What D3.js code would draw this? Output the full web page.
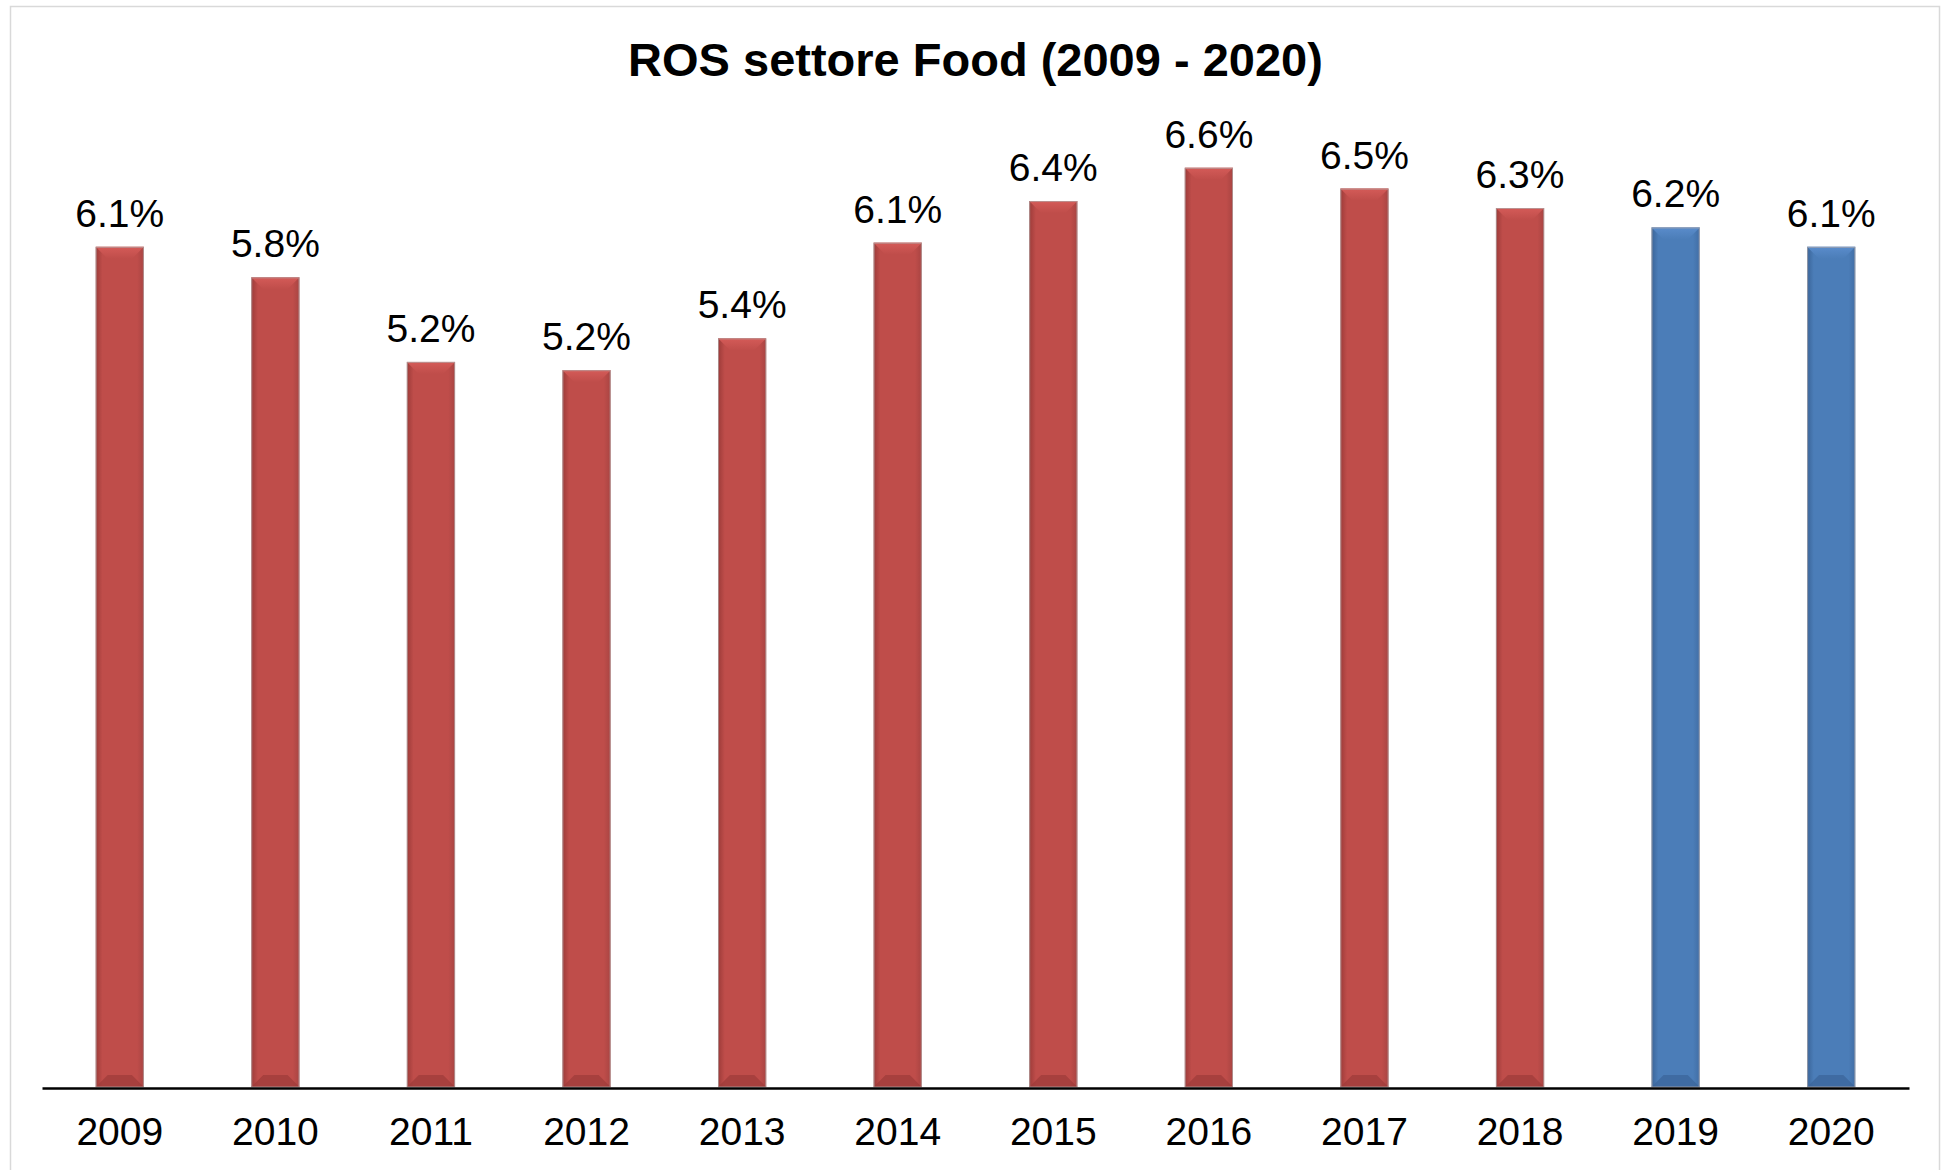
<!DOCTYPE html>
<html>
<head>
<meta charset="utf-8">
<script src="https://cdn.jsdelivr.net/npm/d3@7"></script>
<style>
    body { margin: 0; background: #ffffff; }
    svg { display: block; }
    text { font-family: "Liberation Sans", Arial, sans-serif; fill: #000; }
</style>
</head>
<body>
<svg id="chart"></svg>
<script>
// data (ROS, %)
const years = ["2009", "2010", "2011", "2012", "2013", "2014", "2015", "2016", "2017", "2018", "2019", "2020"];
const rosValues = [6.06, 5.84, 5.23, 5.17, 5.40, 6.09, 6.39, 6.63, 6.48, 6.34, 6.20, 6.06];
const forecastYears = ["2019", "2020"];
const chartTitle = "ROS settore Food (2009 - 2020)";

const width = 1948, height = 1170;
const plot = { left: 42, right: 1909, top: 116.5, bottom: 1087 };
const bevel = 12;

const palette = {
    actual: { base: "#bf4d4a", light: "#d45b58", dark: "#9c3b39", edge: "#a84442" },
    forecast: { base: "#4b7db8", light: "#5a8ccb", dark: "#3a6498", edge: "#416ea5" }
};

const svg = d3.select("#chart")
    .attr("width", width)
    .attr("height", height);

// light frame round the chart area
svg.append("rect")
    .attr("x", 10.5).attr("y", 6.5)
    .attr("width", 1929).attr("height", 1200)
    .attr("fill", "none")
    .attr("stroke", "#d9d9d9")
    .attr("stroke-width", 1.5);

const x = d3.scaleBand()
    .domain(years)
    .range([plot.left, plot.right])
    .paddingInner(0.69)
    .paddingOuter(0.345);

const y = d3.scaleLinear()
    .domain([0, 7])
    .range([plot.bottom, plot.top]);

const colorKey = year => forecastYears.includes(year) ? "forecast" : "actual";

// horizontal shading for the bar body, vertical fade for the top bevel
const defs = svg.append("defs");
Object.entries(palette).forEach(([key, c]) => {
    const g = defs.append("linearGradient")
        .attr("id", "body-" + key)
        .attr("x1", "0%").attr("x2", "100%").attr("y1", "0%").attr("y2", "0%");
    g.append("stop").attr("offset", "0%").attr("stop-color", c.dark);
    g.append("stop").attr("offset", "14%").attr("stop-color", c.base);
    g.append("stop").attr("offset", "86%").attr("stop-color", c.base);
    g.append("stop").attr("offset", "100%").attr("stop-color", c.edge);

    const t = defs.append("linearGradient")
        .attr("id", "top-" + key)
        .attr("x1", "0%").attr("x2", "0%").attr("y1", "0%").attr("y2", "100%");
    t.append("stop").attr("offset", "0%").attr("stop-color", c.light);
    t.append("stop").attr("offset", "100%").attr("stop-color", c.base);
});

const data = years.map((year, i) => ({ year, value: rosValues[i] }));

const bars = svg.append("g")
    .selectAll("g")
    .data(data)
    .enter()
    .append("g");

bars.append("rect")
    .attr("x", d => x(d.year))
    .attr("y", d => y(d.value))
    .attr("width", x.bandwidth())
    .attr("height", d => plot.bottom - y(d.value))
    .attr("fill", d => "url(#body-" + colorKey(d.year) + ")");

// top bevel
bars.append("polygon")
    .attr("points", d => {
        const x0 = x(d.year), x1 = x0 + x.bandwidth(), t = y(d.value);
        return [[x0, t], [x1, t], [x1 - bevel, t + bevel], [x0 + bevel, t + bevel]].join(" ");
    })
    .attr("fill", d => "url(#top-" + colorKey(d.year) + ")");

// bottom bevel
bars.append("polygon")
    .attr("points", d => {
        const x0 = x(d.year), x1 = x0 + x.bandwidth(), b = plot.bottom;
        return [[x0, b], [x1, b], [x1 - bevel, b - bevel], [x0 + bevel, b - bevel]].join(" ");
    })
    .attr("fill", d => palette[colorKey(d.year)].dark)
    .attr("opacity", 0.7);

bars.append("rect")
    .attr("x", d => x(d.year) + 0.5)
    .attr("y", d => y(d.value) + 0.5)
    .attr("width", x.bandwidth() - 1)
    .attr("height", d => plot.bottom - y(d.value) - 0.5)
    .attr("fill", "none")
    .attr("stroke", "#b0a8a8")
    .attr("stroke-opacity", 0.7)
    .attr("stroke-width", 1);

// value labels
const fmt = d3.format(".1%");
bars.append("text")
    .attr("x", d => x(d.year) + x.bandwidth() / 2)
    .attr("y", d => y(d.value) - 20)
    .attr("text-anchor", "middle")
    .style("font-size", "39px")
    .text(d => fmt(d.value / 100));

// category axis
const xAxis = svg.append("g")
    .attr("transform", `translate(0,${plot.bottom + 1})`)
    .call(d3.axisBottom(x).tickSize(0).tickPadding(0));
xAxis.select(".domain")
    .attr("stroke", "#000")
    .attr("stroke-width", 2.6);
xAxis.selectAll(".tick text")
    .attr("dy", null)
    .attr("y", 57)
    .style("font-size", "39px")
    .style("font-family", "\"Liberation Sans\", Arial, sans-serif")
    .attr("fill", "#000");

svg.append("text")
    .attr("x", (plot.left + plot.right) / 2)
    .attr("y", 76)
    .attr("text-anchor", "middle")
    .style("font-size", "47px")
    .style("font-weight", "bold")
    .text(chartTitle);
</script>
</body>
</html>
